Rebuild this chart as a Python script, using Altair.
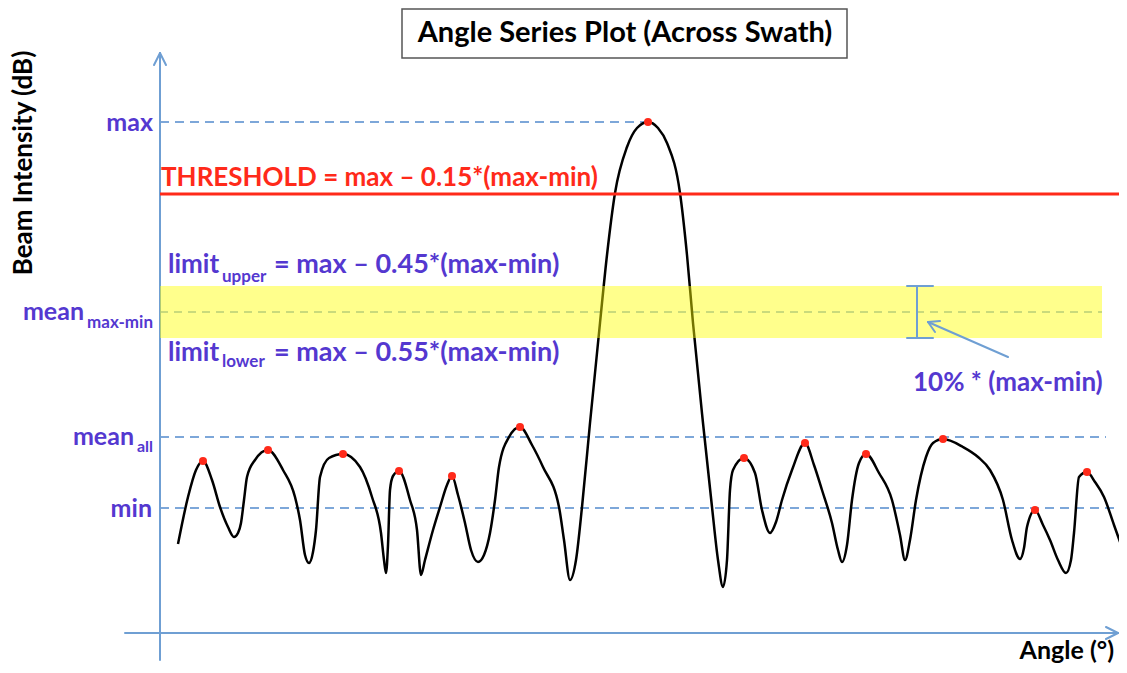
import altair as alt
import pandas as pd

# ---------------- data (angle in degrees, intensity in dB) ----------------
curve_angle = [-47.0, -46.0, -45.2, -44.5, -43.6, -42.8, -42.0, -41.4, -41.0, -40.7,
               -40.4, -40.1, -39.3, -38.0, -36.5, -35.3, -34.8, -34.3, -33.9, -33.5,
               -33.2, -32.8, -31.9, -30.5, -28.8, -27.6, -26.7, -26.4, -26.2, -26.0,
               -25.8, -25.5, -24.9, -23.8, -23.1, -22.7, -22.3, -21.5, -20.8, -20.1,
               -19.6, -19.0, -18.3, -17.7, -17.0, -16.4, -15.8, -15.3, -14.9, -13.9,
               -12.8, -11.6, -10.5, -8.9, -8.4, -7.8, -7.2, -6.6, -5.8, -4.8,
               -4.1, -3.3, -2.1, -1.1, 0.0, 1.0, 1.9, 3.2, 3.9, 4.5,
               5.5, 6.4, 7.0, 7.5, 7.9, 8.2, 8.5, 9.6, 10.7, 11.4,
               12.2, 12.8, 13.4, 14.4, 15.7, 16.6, 17.4, 18.4, 19.0, 19.4,
               19.9, 20.4, 21.1, 21.8, 23.1, 24.4, 25.2, 25.7, 26.2, 26.8,
               27.8, 28.5, 29.5, 31.5, 33.0, 34.2, 35.5, 36.4, 37.2, 37.6,
               37.9, 38.7, 39.5, 40.2, 41.0, 41.8, 42.3, 42.6, 43.1, 43.9,
               44.7, 45.6, 46.6, 47.6]
curve_db = [8.9, 13.6, 16.3, 17.2, 15.3, 12.6, 10.6, 9.6, 10.0, 11.0,
            13.3, 15.6, 17.3, 18.3, 16.3, 13.6, 11.3, 7.8, 7.0, 8.1,
            10.3, 15.6, 17.5, 17.9, 16.6, 13.6, 10.0, 7.3, 6.0, 8.8,
            14.3, 15.7, 16.2, 13.3, 10.3, 5.8, 7.3, 10.3, 12.6, 14.8,
            15.7, 13.8, 11.0, 8.3, 7.1, 7.8, 10.0, 13.3, 16.6, 19.6,
            20.6, 18.8, 16.6, 12.6, 9.3, 5.3, 7.3, 12.6, 21.0, 31.0,
            37.8, 44.0, 48.6, 50.5, 51.1, 50.5, 49.0, 44.0, 37.8, 31.0,
            21.0, 12.6, 7.3, 4.6, 7.3, 14.3, 16.3, 17.5, 16.0, 12.3,
            10.0, 11.1, 13.3, 16.3, 19.0, 16.8, 14.3, 11.0, 8.3, 7.1,
            8.8, 13.3, 17.0, 17.9, 16.0, 13.3, 9.8, 7.3, 9.3, 13.3,
            17.6, 19.0, 19.4, 18.6, 17.6, 16.3, 13.3, 9.3, 7.4, 8.5,
            10.6, 12.3, 10.8, 9.3, 7.3, 6.0, 7.3, 10.0, 15.6, 16.1,
            15.1, 13.6, 10.8, 8.0]

peak_angle = [-44.5, -38.0, -30.5, -24.9, -19.6, -12.8, 0.0, 9.6, 15.7, 21.8, 29.5, 38.7, 43.9]
peak_db = [17.2, 18.3, 17.9, 16.2, 15.7, 20.6, 51.1, 17.5, 19.0, 17.9, 19.4, 12.3, 16.1]

# reference levels (dB)
level_max = 51.1
level_threshold = 43.9
limit_upper = 34.7
limit_lower = 29.5
mean_maxmin = 32.1
mean_all = 19.6
level_min = 12.5

# extents (angle)
axis_angle = -48.8
max_line_end = -0.3
band_end = 45.4
mean_all_end = 45.8
right_end = 47.1

# ---------------- styles ----------------
FONT = "Lato"
PURPLE = "#5438d0"
RED = "#ff2a1a"
BLUE = "#6f9fd3"
DASH = "#7da7d9"

xs = alt.Scale(domain=[-64.0, 47.1], nice=False, zero=False)
ys = alt.Scale(domain=[-3.2, 62.5], nice=False, zero=False)


def X(f):
    return alt.X(f, type="quantitative", scale=xs, axis=None)


def Y(f):
    return alt.Y(f, type="quantitative", scale=ys, axis=None)


curve_df = pd.DataFrame({"a": curve_angle, "db": curve_db})
peak_df = pd.DataFrame({"a": peak_angle, "db": peak_db})

dashed_df = pd.DataFrame({
    "y": [level_max, mean_all, level_min],
    "x1": [axis_angle, axis_angle, axis_angle],
    "x2": [max_line_end, mean_all_end, right_end],
})
mean_mm_df = pd.DataFrame({"y": [mean_maxmin], "x1": [axis_angle], "x2": [band_end]})
thr_df = pd.DataFrame({"y": [level_threshold], "x1": [axis_angle], "x2": [right_end]})
band_df = pd.DataFrame({"x1": [axis_angle], "x2": [band_end], "y1": [limit_lower], "y2": [limit_upper]})

# axes with arrowheads
axes_df = pd.DataFrame({
    "x1": [axis_angle, -52.3, axis_angle, axis_angle, 47.0, 47.0],
    "y1": [-2.7, 0.0, 58.0, 58.0, 0.0, 0.0],
    "x2": [axis_angle, 47.0, -49.4, -48.2, 45.8, 45.8],
    "y2": [58.0, 0.0, 56.8, 56.8, 0.6, -0.6],
})
# I-beam showing band width + pointer arrow
ibeam_df = pd.DataFrame({
    "x1": [26.9, 25.9, 25.9, 36.0, 28.0, 28.0],
    "y1": [limit_lower, limit_upper, limit_lower, 27.6, 31.1, 31.1],
    "x2": [26.9, 28.5, 28.5, 28.0, 28.7, 29.2],
    "y2": [limit_upper, limit_upper, limit_lower, 31.1, 30.1, 31.2],
})

title_box = pd.DataFrame({"x1": [-24.6], "x2": [19.9], "y1": [57.5], "y2": [62.4]})

left_text = pd.DataFrame([
    {"t": "THRESHOLD = max \u2013 0.15*(max-min)", "x": -48.7, "y": 45.5, "s": 26, "c": RED},
    {"t": "limit", "x": -48.0, "y": 36.8, "s": 26, "c": PURPLE},
    {"t": "upper", "x": -42.6, "y": 35.6, "s": 17, "c": PURPLE},
    {"t": "= max \u2013 0.45*(max-min)", "x": -37.4, "y": 36.8, "s": 27, "c": PURPLE},
    {"t": "limit", "x": -48.0, "y": 28.0, "s": 26, "c": PURPLE},
    {"t": "lower", "x": -42.6, "y": 27.1, "s": 17, "c": PURPLE},
    {"t": "= max \u2013 0.55*(max-min)", "x": -37.4, "y": 28.0, "s": 27, "c": PURPLE},
    {"t": "10% * (max-min)", "x": 26.5, "y": 25.0, "s": 26, "c": PURPLE},
])
right_text = pd.DataFrame([
    {"t": "max", "x": -49.5, "y": 51.0, "s": 25, "c": PURPLE},
    {"t": "min", "x": -49.6, "y": 12.4, "s": 25, "c": PURPLE},
    {"t": "mean", "x": -51.4, "y": 19.6, "s": 25, "c": PURPLE},
    {"t": "all", "x": -49.5, "y": 18.6, "s": 16, "c": PURPLE},
    {"t": "mean", "x": -56.4, "y": 32.1, "s": 25, "c": PURPLE},
    {"t": "max-min", "x": -49.5, "y": 31.0, "s": 17, "c": PURPLE},
    {"t": "Angle (\u00b0)", "x": 46.6, "y": -1.8, "s": 25, "c": "black"},
])
center_text = pd.DataFrame([
    {"t": "Angle Series Plot (Across Swath)", "x": -2.3, "y": 60.0, "s": 29, "c": "black"},
])
ytitle = pd.DataFrame([{"t": "Beam Intensity (dB)", "x": -62.4, "y": 47.0}])


def seg_layer(df, color, width):
    return alt.Chart(df).mark_rule(color=color, strokeWidth=width, strokeCap="round").encode(
        x=X("x1"), x2="x2", y=Y("y1"), y2="y2")


def text_layer(df, align):
    return alt.Chart(df).mark_text(align=align, baseline="middle", font=FONT, fontWeight="bold").encode(
        x=X("x"), y=Y("y"), text="t:N",
        size=alt.Size("s:Q", scale=None), color=alt.Color("c:N", scale=None))


dashed = alt.Chart(dashed_df).mark_rule(color=DASH, strokeWidth=2, strokeDash=[9, 6]).encode(
    x=X("x1"), x2="x2", y=Y("y"))
mean_mm = alt.Chart(mean_mm_df).mark_rule(color=DASH, strokeWidth=1.5, strokeDash=[8, 6]).encode(
    x=X("x1"), x2="x2", y=Y("y"))
thr = alt.Chart(thr_df).mark_rule(color=RED, strokeWidth=3).encode(x=X("x1"), x2="x2", y=Y("y"))
axes = seg_layer(axes_df, BLUE, 2)
curve = alt.Chart(curve_df).mark_line(color="black", strokeWidth=2.5, interpolate="monotone").encode(
    x=X("a"), y=Y("db"))
peaks = alt.Chart(peak_df).mark_circle(color=RED, size=64, opacity=1).encode(x=X("a"), y=Y("db"))
band = alt.Chart(band_df).mark_rect(color="#ffff00", opacity=0.45).encode(
    x=X("x1"), x2="x2", y=Y("y1"), y2="y2")
ibeam = seg_layer(ibeam_df, BLUE, 2)
tbox = alt.Chart(title_box).mark_rect(fill="white", stroke="#555555", strokeWidth=1.5).encode(
    x=X("x1"), x2="x2", y=Y("y1"), y2="y2")
ylab = alt.Chart(ytitle).mark_text(angle=270, align="center", baseline="middle", font=FONT,
                                   fontWeight="bold", fontSize=26, color="black").encode(
    x=X("x"), y=Y("y"), text="t:N")

chart = alt.layer(
    dashed, mean_mm, axes, curve, peaks, band, thr, ibeam, tbox,
    text_layer(left_text, "left"), text_layer(right_text, "right"), text_layer(center_text, "center"), ylab,
).properties(width=1111, height=657, padding=0, autosize="none").configure_view(strokeWidth=0)

chart.save("out.html", embed_options={"renderer": "svg", "actions": False})
